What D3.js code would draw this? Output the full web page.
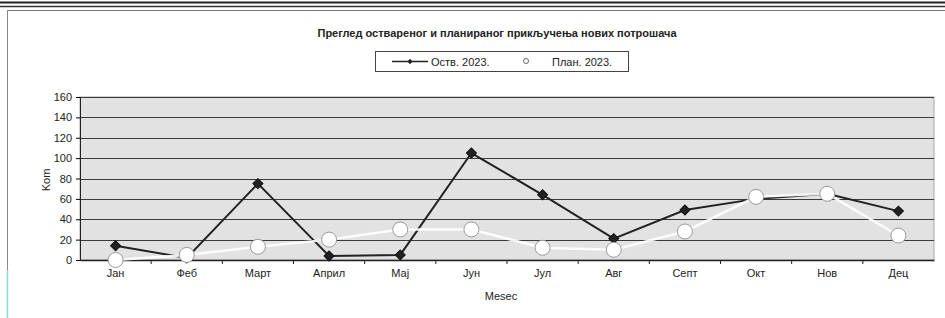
<!DOCTYPE html>
<html><head><meta charset="utf-8">
<script src="https://cdn.jsdelivr.net/npm/d3@7"></script>
<style>body{margin:0;background:#fff;}svg{display:block;font-family:Arial,"Liberation Sans",sans-serif;}</style>
</head><body>
<svg id="c" width="945" height="318"></svg>
<script>
const months = ["Јан","Феб","Март","Април","Мај","Јун","Јул","Авг","Септ","Окт","Нов","Дец"];
const actual = [14, 2, 75, 4, 5, 105, 64, 21, 49, 60, 65, 48];
const plan = [0, 5, 13, 20, 30, 30, 12, 10, 28, 62, 65, 24];
const yTicks = [0, 20, 40, 60, 80, 100, 120, 140, 160];
const title = "Преглед оствареног и планираног прикључења нових потрошача";
const legendLabels = ["Оств. 2023.", "План. 2023."];
const yLabel = "Kom";
const xLabel = "Mesec";

const svg = d3.select("#c");
const L = 80, R = 934, T = 97, B = 260;

// document frame
svg.append("line").attr("x1",0).attr("x2",945).attr("y1",2.5).attr("y2",2.5).attr("stroke","#222").attr("stroke-width",2);
svg.append("line").attr("x1",0).attr("x2",945).attr("y1",6.5).attr("y2",6.5).attr("stroke","#333").attr("stroke-width",1.5);
svg.append("line").attr("x1",7).attr("x2",945).attr("y1",10.5).attr("y2",10.5).attr("stroke","#777").attr("stroke-width",1);
svg.append("line").attr("x1",7.5).attr("x2",7.5).attr("y1",10).attr("y2",270).attr("stroke","#888").attr("stroke-width",1);
svg.append("line").attr("x1",7.5).attr("x2",7.5).attr("y1",270).attr("y2",318).attr("stroke","#8fd6d6").attr("stroke-width",1.5);

const x = d3.scaleBand().domain(months).range([L, R]);
const y = d3.scaleLinear().domain([0,160]).range([B, T]);

svg.append("rect").attr("x",L).attr("y",T).attr("width",R-L).attr("height",B-T).attr("fill","#e2e2e2").attr("stroke","#aaa");

svg.append("g").selectAll("line").data(yTicks.slice(1)).join("line")
  .attr("x1",L).attr("x2",R).attr("y1",d=>Math.round(y(d))+0.5).attr("y2",d=>Math.round(y(d))+0.5)
  .attr("stroke","#3a3a3a").attr("stroke-width",1);

const yAxis = svg.append("g").attr("transform",`translate(${L},0)`)
  .call(d3.axisLeft(y).tickValues(yTicks).tickSize(4).tickPadding(4));
yAxis.select(".domain").attr("stroke","#222");
yAxis.selectAll("text").attr("font-size",11).attr("fill","#222");

const xAxis = svg.append("g").attr("transform",`translate(0,${B})`)
  .call(d3.axisBottom(x).tickSize(0).tickPadding(9));
xAxis.select(".domain").attr("stroke","#222").attr("stroke-width",1.5);
xAxis.selectAll("text").attr("font-size",11).attr("fill","#222");
svg.append("g").selectAll("line").data(months.slice(1)).join("line")
  .attr("x1",d=>x(d)).attr("x2",d=>x(d)).attr("y1",B).attr("y2",B+4).attr("stroke","#222");

const cx = d => x(d) + x.bandwidth()/2;

// actual line
svg.append("path").datum(actual)
  .attr("d", d3.line().x((d,i)=>cx(months[i])).y(d=>y(d)))
  .attr("fill","none").attr("stroke","#222").attr("stroke-width",2);
svg.append("g").selectAll("path").data(actual).join("path")
  .attr("d", d3.symbol(d3.symbolSquare, 50))
  .attr("transform",(d,i)=>`translate(${cx(months[i])},${y(d)}) rotate(45)`)
  .attr("fill","#222").attr("stroke","#111");

// plan line (white) + circles
svg.append("path").datum(plan)
  .attr("d", d3.line().x((d,i)=>cx(months[i])).y(d=>y(d)))
  .attr("fill","none").attr("stroke","#fff").attr("stroke-width",2.5).attr("opacity",0.9);
svg.append("g").selectAll("circle").data(plan).join("circle")
  .attr("cx",(d,i)=>cx(months[i])).attr("cy",d=>y(d)).attr("r",7.5)
  .attr("fill","#fff").attr("stroke","#999").attr("stroke-width",1);

// title
svg.append("text").attr("x",497).attr("y",37).attr("text-anchor","middle")
  .attr("font-size",11).attr("font-weight","bold").attr("fill","#222").text(title);

// legend
svg.append("rect").attr("x",375.5).attr("y",51.5).attr("width",253).attr("height",20).attr("fill","#fff").attr("stroke","#444");
svg.append("line").attr("x1",392).attr("x2",428).attr("y1",61.5).attr("y2",61.5).attr("stroke","#222").attr("stroke-width",1.5);
svg.append("path").attr("d",d3.symbol(d3.symbolSquare,14)).attr("transform","translate(410,61.5) rotate(45)").attr("fill","#222");
svg.append("text").attr("x",431).attr("y",65.5).attr("font-size",11).attr("fill","#222").text(legendLabels[0]);
svg.append("circle").attr("cx",526).attr("cy",61).attr("r",2.5).attr("fill","#fff").attr("stroke","#666");
svg.append("text").attr("x",552).attr("y",65.5).attr("font-size",11).attr("fill","#222").text(legendLabels[1]);

// axis titles
svg.append("text").attr("transform","translate(50,180) rotate(-90)").attr("text-anchor","middle")
  .attr("font-size",11).attr("fill","#222").text(yLabel);
svg.append("text").attr("x",501).attr("y",300).attr("text-anchor","middle")
  .attr("font-size",11).attr("fill","#222").text(xLabel);
</script>
</body></html>
